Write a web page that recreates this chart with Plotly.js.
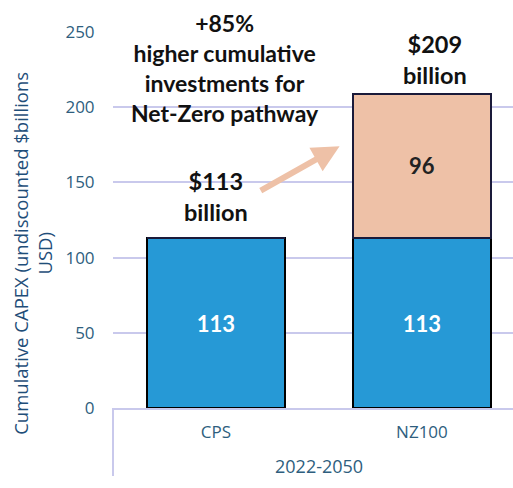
<!DOCTYPE html>
<html>
<head>
<meta charset="utf-8">
<script src="https://cdn.plot.ly/plotly-3.0.1.min.js"></script>
<style>html,body{margin:0;padding:0;background:#fff;}#chart{width:513px;height:488px;}</style>
</head>
<body>
<div id="chart"></div>
<script>
const categories = ["CPS", "NZ100"];
const periodLabel = "2022-2050";
const baseValues = [113, 113];
const additionalValues = [0, 96];
const totalLabels = ["$113<br>billion", "$209<br>billion"];
const totals = [113, 209];
const yTicks = [0, 50, 100, 150, 200, 250];
const noteText = "+85%<br>higher cumulative<br>investments for<br>Net-Zero pathway";
const yTitle = "Cumulative CAPEX (undiscounted $billions<br>USD)";

const blue = "#2699D6";
const peach = "#EEC1A7";
const boldFont = "Lato, 'Open Sans', sans-serif";

const traces = [
  {
    type: "bar", x: categories, y: baseValues, width: 0.67,
    marker: {color: blue, line: {color: "#000000", width: 2}},
    text: baseValues.map(String), textposition: "inside", insidetextanchor: "middle",
    textfont: {family: boldFont, size: 22, color: "#ffffff", weight: 700},
    hoverinfo: "none", constraintext: "none"
  },
  {
    type: "bar", x: categories, y: additionalValues, width: 0.67,
    marker: {color: peach, line: {color: "#1a1a3a", width: 2}},
    text: additionalValues.map(v => v > 0 ? String(v) : ""), textposition: "inside", insidetextanchor: "middle",
    textfont: {family: boldFont, size: 22, color: "#222222", weight: 700},
    hoverinfo: "none", constraintext: "none"
  }
];

const annotations = [
  {xref: "x", yref: "paper", x: 0.5, y: -0.155, text: periodLabel, showarrow: false,
   font: {family: "'Open Sans', sans-serif", size: 18, color: "#2E5E7E"}, yanchor: "middle"},
  {xref: "paper", yref: "paper", x: -0.2, y: 0.41, text: yTitle, showarrow: false, textangle: -90,
   font: {family: "'Open Sans', sans-serif", size: 18.5, color: "#1F4E79"}, xanchor: "center", yanchor: "middle"},
  {xref: "x", yref: "paper", x: 0.044, y: 0.905, text: noteText, showarrow: false, yanchor: "middle",
   font: {family: boldFont, size: 23, color: "#111111", weight: 700}, align: "center"},
  {xref: "x", yref: "y", x: 0, y: 140.5, text: totalLabels[0], showarrow: false, yanchor: "middle",
   font: {family: boldFont, size: 23.5, color: "#111111", weight: 700}, align: "center"},
  {xref: "x", yref: "y", x: 1.063, y: 231.5, text: totalLabels[1], showarrow: false, yanchor: "middle",
   font: {family: boldFont, size: 23.5, color: "#111111", weight: 700}, align: "center"},
  {xref: "x", yref: "y", axref: "x", ayref: "y", x: 0.60, y: 174, ax: 0.21, ay: 144, text: "",
   showarrow: true, arrowhead: 2, arrowsize: 0.9, arrowwidth: 6, arrowcolor: peach, standoff: 0, startstandoff: 0}
];

const shapes = [
  {type: "line", xref: "paper", yref: "paper", x0: 0, x1: 0, y0: 0, y1: -0.181,
   line: {color: "#C9C9EC", width: 2}}
];

const layout = {
  width: 513, height: 488,
  margin: {l: 113, r: 0, t: 32, b: 80, pad: 0},
  paper_bgcolor: "#ffffff", plot_bgcolor: "#ffffff",
  barmode: "stack", showlegend: false,
  xaxis: {
    type: "category", range: [-0.5, 1.442], showgrid: false, zeroline: false,
    showline: true, linecolor: "#C9C9EC", linewidth: 2,
    ticks: "outside", ticklen: 8, tickcolor: "rgba(0,0,0,0)",
    tickfont: {family: "'Open Sans', sans-serif", size: 17, color: "#2E5E7E"}, fixedrange: true
  },
  yaxis: {
    range: [0, 250], tickvals: yTicks, ticktext: yTicks.map(String),
    showgrid: true, gridcolor: "#C9C9EC", gridwidth: 2, zeroline: false, showline: false,
    ticks: "outside", ticklen: 14, tickcolor: "rgba(0,0,0,0)",
    tickfont: {family: "'Open Sans', sans-serif", size: 17, color: "#2E5E7E"}, fixedrange: true
  },
  annotations: annotations,
  shapes: shapes
};

Plotly.newPlot("chart", traces, layout, {displayModeBar: false, staticPlot: true});
</script>
</body>
</html>
